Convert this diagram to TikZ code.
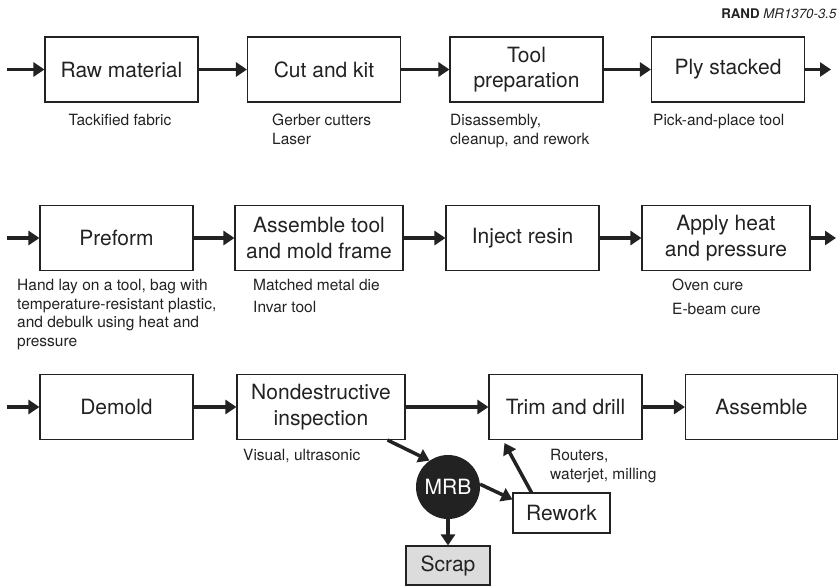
\documentclass[tikz,border=0pt]{standalone}
\usepackage{fontspec}
\setmainfont{TeX Gyre Heros}
\usepackage{tikz}
\usetikzlibrary{arrows.meta}
\definecolor{ink}{HTML}{222222}
\definecolor{scrap-gray}{HTML}{DCDCDC}

\begin{document}
\begin{tikzpicture}[x=1pt, y=-1pt,
    proc/.style={draw=ink, line width=1.1pt, minimum width=153pt, minimum height=65pt,
      inner sep=0pt, align=center, text=ink, font=\fontsize{21}{25.5}\selectfont},
    wideproc/.style={proc, minimum width=168pt},
    note/.style={inner sep=0pt, align=left, anchor=north west, text=ink,
      font=\fontsize{15.5}{18.8}\selectfont},
    flow/.style={draw=ink, line width=3.5pt, -{Triangle[length=11pt, width=14pt]}}]
    \useasboundingbox (0,0) rectangle (838,587);

    \node[anchor=base east, inner sep=0pt, text=ink, font=\fontsize{13.3}{15}\selectfont]
      (tag) at (837,18.5) {\textbf{RAND} \textit{MR1370-3.5}};

    % first row
    \node[proc] (raw)  at (121.5,69.5) {Raw material};
    \node[proc] (cut)  at (324,69.5)   {Cut and kit};
    \node[proc] (prep) at (526.5,69.5) {Tool\\preparation};
    \node[proc] (ply)  at (728,69.5)   {Ply stacked};
    \coordinate (in1)  at (7,69.5);
    \coordinate (out1) at (831,69.5);
    \draw[flow] (in1) -- (raw);
    \draw[flow] (raw) -- (cut);
    \draw[flow] (cut) -- (prep);
    \draw[flow] (prep) -- (ply);
    \draw[flow] (ply) -- (out1);
    \node[note, anchor=base] (lraw) at (120,125) {Tackified fabric};
    \node[note] (lcut) at (272,113.5) {Gerber cutters\\Laser};
    \node[note] (lprep) at (450,113.8) {Disassembly,\\cleanup, and rework};
    \node[note, anchor=base west] (lply) at (653,125) {Pick-and-place tool};

    % second row
    \node[proc]     (pref) at (116.5,238) {Preform};
    \node[wideproc] (asm)  at (319,238)   {Assemble tool\\and mold frame};
    \node[proc]     (inj)  at (522.5,238) {Inject resin};
    \node[wideproc] (heat) at (726,238)   {Apply heat\\and pressure};
    \coordinate (in2)  at (7,238);
    \coordinate (out2) at (836,238);
    \draw[flow] (in2) -- (pref);
    \draw[flow] (pref) -- (asm);
    \draw[flow] (asm) -- (inj);
    \draw[flow] (inj) -- (heat);
    \draw[flow] (heat) -- (out2);
    \node[note] (lpref) at (17,278.8)
      {Hand lay on a tool, bag with\\temperature-resistant plastic,\\and debulk using heat and\\pressure};
    \node[note] (lasm) at (253,278.8) {Matched metal die\\[3.5pt]Invar tool};
    \node[note] (lheat) at (672,278.5) {Oven cure\\[5pt]E-beam cure};

    % third row
    \node[proc]     (demold) at (116.5,407) {Demold};
    \node[wideproc] (ndi)    at (321,407)   {Nondestructive\\inspection};
    \node[proc]     (trim)   at (565.5,407) {Trim and drill};
    \node[proc, minimum width=152pt] (final) at (761.5,407) {Assemble};
    \coordinate (in3) at (7,407);
    \draw[flow] (in3) -- (demold);
    \draw[flow] (demold) -- (ndi);
    \draw[flow] (ndi) -- (trim);
    \draw[flow] (trim) -- (final);
    \node[note, anchor=base west] (lndi) at (243,460) {Visual, ultrasonic};
    \node[note] (ltrim) at (550,448.8) {Routers,\\waterjet, milling};

    % review loop
    \node[circle, fill=ink, minimum size=64pt, inner sep=0pt, text=white,
      font=\fontsize{21}{25}\selectfont] (mrb) at (448,487) {MRB};
    \node[proc, minimum width=97pt, minimum height=40pt] (rework) at (561.5,513) {Rework};
    \node[proc, fill=scrap-gray, minimum width=84pt, minimum height=39pt] (scrap) at (448,565.5) {Scrap};
    \draw[flow] ([xshift=-18pt]ndi.south east) -- (mrb.125);
    \draw[flow] (mrb.5) -- ([yshift=-7pt]rework.north west);
    \draw[flow] ([xshift=19pt]rework.north west) -- ([xshift=16pt, yshift=-3pt]trim.south west);
    \draw[flow] (mrb) -- (scrap);
\end{tikzpicture}
\end{document}
